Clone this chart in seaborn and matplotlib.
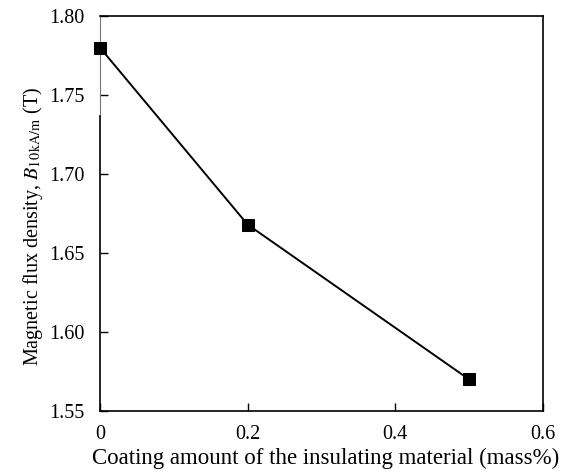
import matplotlib
matplotlib.use("Agg")
import matplotlib.pyplot as plt
import seaborn as sns
import pandas as pd

coating = [0.0, 0.2, 0.5]
flux = [1.780, 1.668, 1.570]
xticks = [0, 0.2, 0.4, 0.6]
xticklabels = ["0", "0.2", "0.4", "0.6"]
yticks = [1.55, 1.60, 1.65, 1.70, 1.75, 1.80]
yticklabels = ["1.55", "1.60", "1.65", "1.70", "1.75", "1.80"]

sns.set_theme(style="white")
plt.rcParams["font.family"] = ["Liberation Serif", "DejaVu Serif"]
plt.rcParams["mathtext.fontset"] = "stix"

df = pd.DataFrame({"coating": coating, "flux": flux})

fig = plt.figure(figsize=(5.66, 4.73), dpi=100)
ax = fig.add_axes([0.1767, 0.131, 0.7827, 0.835])

sns.lineplot(data=df, x="coating", y="flux", ax=ax, color="black",
             marker="s", markersize=8.5, markeredgecolor="black",
             linewidth=1.4, legend=False)
for ln in ax.lines:
    ln.set_clip_on(False)

ax.set_xlim(0, 0.6)
ax.set_ylim(1.55, 1.80)
ax.set_xticks(xticks)
ax.set_xticklabels(xticklabels)
ax.set_yticks(yticks)
ax.set_yticklabels(yticklabels)
ax.tick_params(axis="both", direction="in", length=6, width=1, colors="black",
               labelsize=14.5, top=False, right=False, bottom=True, left=True)
ax.tick_params(axis="y", pad=11)
ax.tick_params(axis="x", pad=10)
for s in ax.spines.values():
    s.set_color("black")
    s.set_linewidth(1.2)
# left spine: thin grey upper part as in the reference scan
ax.spines["left"].set_bounds(1.55, 1.737)
ax.plot([0, 0], [1.737, 1.80], color="#777777", linewidth=0.8, clip_on=False, zorder=1)

ax.set_xlabel("Coating amount of the insulating material (mass%)", fontsize=16.5,
              color="black")
ax.set_ylabel(r"Magnetic flux density, $B_{10\,\mathrm{kA/m}}$ (T)", fontsize=14.5,
              color="black")
ax.xaxis.set_label_coords(0.51, -0.092)
ax.yaxis.set_label_coords(-0.124, 0.468)
ax.grid(False)

fig.savefig("out.png", dpi=100, facecolor="white")
